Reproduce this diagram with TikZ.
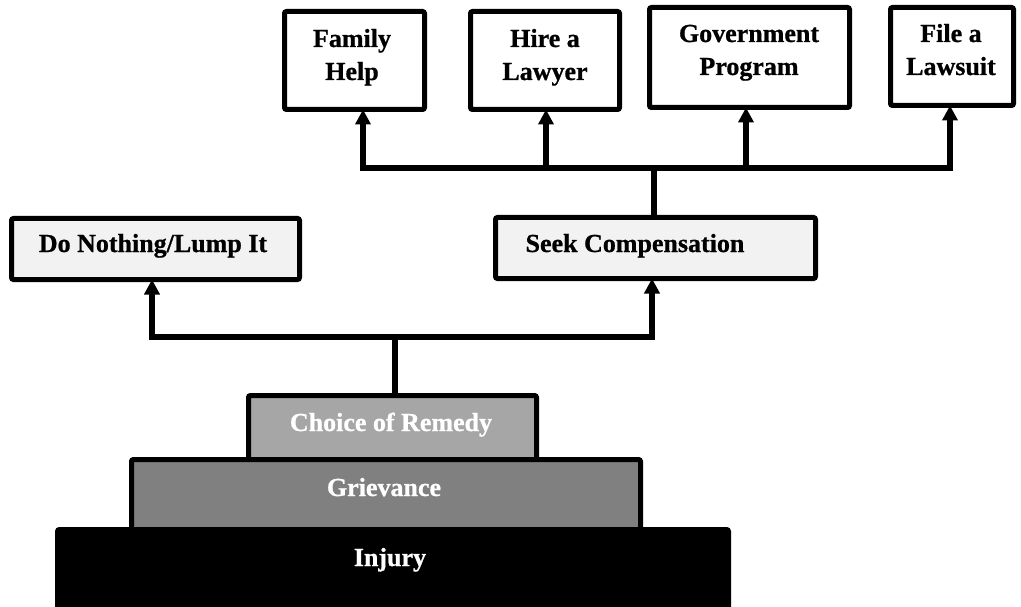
\documentclass[tikz,border=0pt]{standalone}
\usepackage{fontspec}
\setmainfont{Liberation Serif}
\newfontfamily\heavyfont{Liberation Serif Bold}[FakeBold=0.8]
\usetikzlibrary{arrows.meta,calc}
\begin{document}
\begin{tikzpicture}[x=1pt,y=-1pt,
  box/.style={draw=black,line width=5pt,rounded corners=2pt,inner sep=0pt,outer sep=0pt,fill=white},
  lbox/.style={box,fill=black!5},
  lbl/.style={anchor=base,align=center,inner sep=0pt,font=\fontsize{26}{33}\heavyfont},
  wlbl/.style={lbl,text=white},
  conn/.style={line width=5.5pt},
  arr/.style={line width=5.5pt,-{Triangle[length=15pt,width=15pt]}}]
\useasboundingbox (0,0) rectangle (1021,607);
% top boxes
\node[box,minimum width=140pt,minimum height=98pt] (family) at (354.5,60.5) {};
\node[box,minimum width=149pt,minimum height=98pt] (hire) at (545,60.5) {};
\node[box,minimum width=200pt,minimum height=100pt] (gov) at (749.5,57.5) {};
\node[box,minimum width=123pt,minimum height=98pt] (file) at (952,56.5) {};
\node[lbl] (tfamily) at (352,80) {Family\\Help};
\node[lbl] (thire) at (545,80) {Hire a\\Lawyer};
\node[lbl] (tgov) at (749,75) {Government\\Program};
\node[lbl] (tfile) at (951,75) {File a\\Lawsuit};
% middle boxes
\node[lbox,minimum width=288pt,minimum height=61pt] (nothing) at (155.5,249) {};
\node[lbox,minimum width=320pt,minimum height=61pt] (seek) at (655.5,248) {};
\node[lbl] (tnothing) at (153,252) {Do Nothing/Lump It};
\node[lbl] (tseek) at (635,252) {Seek Compensation};
% pyramid
\node[box,fill=black!35,minimum width=288pt,minimum height=67pt] (choice) at (392.5,429) {};
\node[box,fill=black!50,minimum width=509pt,minimum height=73pt] (griev) at (386,496) {};
\node[box,fill=black,minimum width=671pt,minimum height=83pt] (injury) at (393,571) {};
\node[wlbl] (tinjury) at (390,566) {Injury};
\node[wlbl] (tgriev) at (384,496) {Grievance};
\node[wlbl] (tchoice) at (391,431) {Choice of Remedy};
% connectors
\coordinate (j1) at (395,337);
\coordinate (j2) at (654,168);
\draw[conn] (choice.north -| j1) -- (j1);
\draw[arr] (j1) -| ($(nothing.south)+(-3.5,0)$);
\draw[arr] (j1) -| ($(seek.south)+(-3.5,0)$);
\draw[conn] (seek.north -| j2) -- (j2);
\draw[arr] (j2) -| ($(family.south)+(8.5,0)$);
\draw[arr] (j2) -| ($(hire.south)+(1,0)$);
\draw[arr] (j2) -| ($(gov.south)+(-3.5,0)$);
\draw[arr] (j2) -| ($(file.south)+(-2,0)$);
\end{tikzpicture}
\end{document}
